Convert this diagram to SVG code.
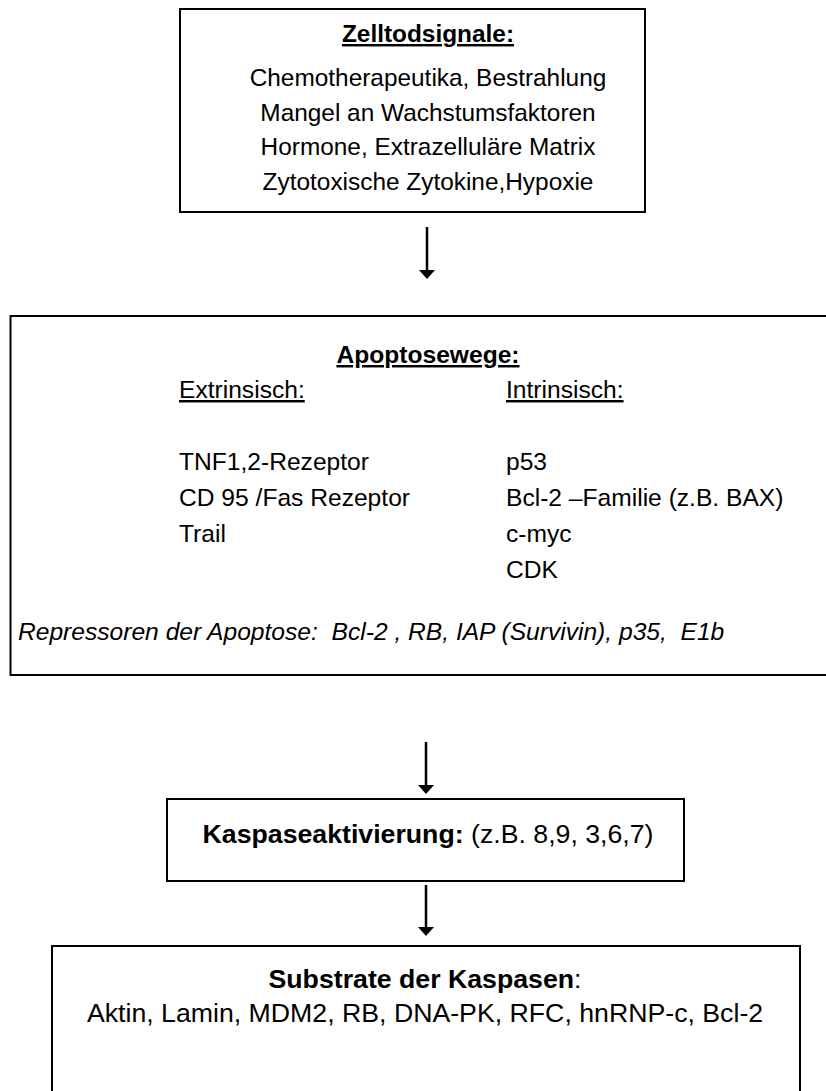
<svg xmlns="http://www.w3.org/2000/svg" width="826" height="1091" viewBox="0 0 826 1091">
<style>
text { font-family: "Liberation Sans", Arial, sans-serif; fill: #000; white-space: pre; }
.s { font-size: 24.4px; }
.m { font-size: 24.6px; }
.l { font-size: 26.7px; }
.b { font-weight: bold; }
.u { text-decoration: underline; }
.c { text-anchor: middle; }
.i { font-style: italic; }
.box { fill: #fff; stroke: #000; stroke-width: 2; }
.shaft { stroke: #000; stroke-width: 2.5; fill: none; }
.head { fill: #000; }
</style>
<rect width="826" height="1091" fill="#fff"/>
<g id="zelltodsignale">
<rect class="box" x="180" y="9" width="465" height="203"/>
<text class="s b u c" x="428" y="42">Zelltodsignale:</text>
<text class="s c" x="428" y="86">Chemotherapeutika, Bestrahlung</text>
<text class="s c" x="428" y="121">Mangel an Wachstumsfaktoren</text>
<text class="s c" x="428" y="155">Hormone, Extrazelluläre Matrix</text>
<text class="s c" x="428" y="190">Zytotoxische Zytokine,Hypoxie</text>
</g>
<g id="apoptosewege">
<rect class="box" x="10.5" y="316" width="840" height="359"/>
<text class="m b u c" x="428" y="363">Apoptosewege:</text>
<text class="m u" x="179" y="398">Extrinsisch:</text>
<text class="m u" x="506" y="398">Intrinsisch:</text>
<text class="m" x="179" y="470">TNF1,2-Rezeptor</text>
<text class="m" x="179" y="506">CD 95 /Fas Rezeptor</text>
<text class="m" x="179" y="542">Trail</text>
<text class="m" x="506" y="470">p53</text>
<text class="m" x="506" y="506">Bcl-2 –Familie (z.B. BAX)</text>
<text class="m" x="506" y="542">c-myc</text>
<text class="m" x="506" y="578">CDK</text>
<text class="m i" x="18" y="640" xml:space="preserve">Repressoren der Apoptose:  Bcl-2 , RB, IAP (Survivin), p35,  E1b</text>
</g>
<g id="kaspaseaktivierung">
<rect class="box" x="167" y="799" width="517" height="82"/>
<text class="l c" x="428" y="843"><tspan class="b">Kaspaseaktivierung:</tspan> (z.B. 8,9, 3,6,7)</text>
</g>
<g id="substrate">
<rect class="box" x="52" y="946" width="748" height="200"/>
<text class="l c" x="425" y="988"><tspan class="b">Substrate der Kaspasen</tspan>:</text>
<text class="l c" x="425" y="1022">Aktin, Lamin, MDM2, RB, DNA-PK, RFC, hnRNP-c, Bcl-2</text>
</g>
<g id="connectors">
<line class="shaft" x1="427" y1="227" x2="427" y2="271"/>
<polygon class="head" points="419,270 435,270 427,279"/>
<line class="shaft" x1="426" y1="742" x2="426" y2="786"/>
<polygon class="head" points="418,785 434,785 426,794"/>
<line class="shaft" x1="426" y1="885" x2="426" y2="928"/>
<polygon class="head" points="418,927 434,927 426,936"/>
</g>
</svg>
